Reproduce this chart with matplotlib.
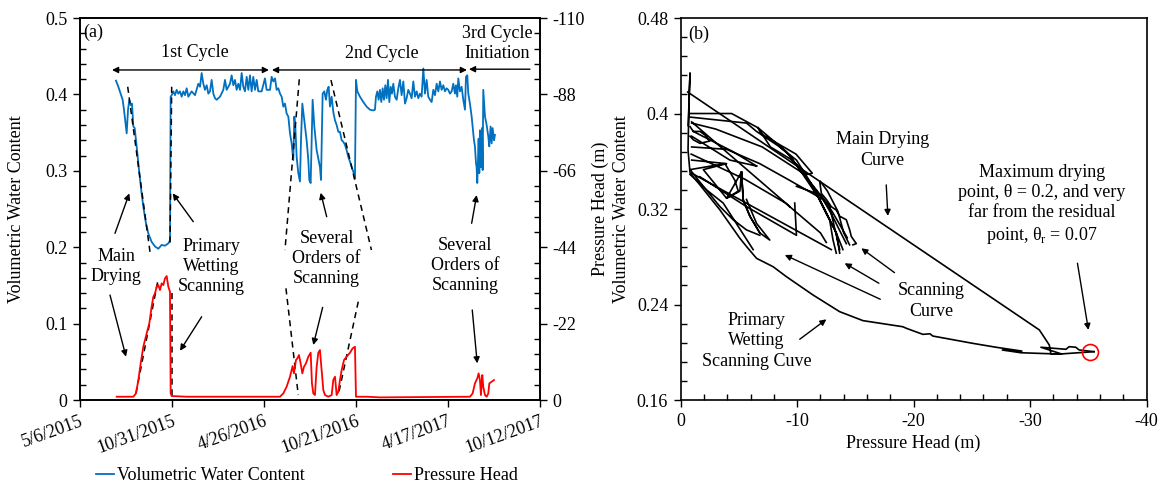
# grafico_humedad_succion.py
# -*- coding: utf-8 -*-
"""
Serie temporal de contenido volumétrico de agua y presión (a)
y curva de histéresis presión - humedad (b).
"""

import numpy as np
import matplotlib.pyplot as plt
import matplotlib.dates as mdates
from matplotlib.ticker import MultipleLocator

plt.rcParams['font.family'] = ['Liberation Serif', 'DejaVu Serif']
plt.rcParams['font.size'] = 13
plt.rcParams['axes.unicode_minus'] = False
plt.rcParams['mathtext.fontset'] = 'custom'
plt.rcParams['mathtext.rm'] = 'Liberation Serif'

# Fechas del eje x (a)
fecha_inicio = '2015-05-06'
fecha_fin = '2017-10-12'
fechas_ticks = ['2015-05-06', '2015-10-31', '2016-04-26',
                '2016-10-21', '2017-04-17', '2017-10-12']
etiquetas_fechas = ['5/6/2015', '10/31/2015', '4/26/2016',
                    '10/21/2016', '4/17/2017', '10/12/2017']

# Contenido volumétrico de agua (días desde fecha_inicio)
vwc_dia = [69.6, 74.2, 78.7, 82.5, 85.1, 89.0, 90.3, 92.9, 95.4, 98.0,
           100.6, 103.2, 105.8, 109.6, 114.8, 119.3, 122.5, 127.7, 132.2, 138.6,
           145.1, 151.5, 158.0, 164.4, 170.9, 174.1, 175.4, 177.3, 180.6, 183.8,
           187.0, 190.2, 193.5, 196.7, 199.9, 203.1, 206.4, 209.6, 216.0, 222.5,
           228.9, 232.2, 235.4, 238.6, 241.8, 245.1, 248.3, 251.5, 254.7, 258.0,
           261.2, 264.4, 270.9, 277.3, 280.5, 283.8, 290.2, 293.4, 296.7, 299.9,
           303.1, 306.3, 309.6, 312.8, 316.0, 319.2, 322.5, 325.7, 328.9, 332.1,
           335.3, 338.6, 341.8, 345.0, 351.5, 357.9, 361.1, 367.6,
           370.8, 374.0, 377.3, 380.5, 383.7, 387.0, 390.2, 393.4, 396.6, 399.8,
           403.1, 406.3, 409.5, 412.7, 414.7, 416.6, 419.2, 422.4, 425.6, 427.6,
           430.2, 434.0, 438.5, 441.8, 443.7, 446.3, 450.1, 453.4, 457.9, 461.1,
           464.3, 466.3, 469.5, 472.7, 475.9, 478.5, 481.1, 483.7, 486.9, 490.1,
           493.4, 496.6, 499.8, 503.0, 506.3, 509.5, 512.7, 515.9, 519.2, 522.4,
           525.6, 528.8, 532.0, 534.0, 536.6, 541.7, 548.2, 554.6, 561.1, 567.5,
           570.7, 572.7, 575.3, 577.8, 580.4, 583.0, 585.6, 588.2, 590.7, 593.3,
           595.9, 598.5, 601.1, 603.6, 606.2, 609.4, 612.7, 615.9, 619.1, 622.3,
           625.6, 628.8, 632.0, 635.2, 638.5, 641.7, 644.9, 648.1, 651.4, 654.6,
           657.8, 661.0, 664.3, 667.5, 670.7, 673.9, 677.2, 680.4, 683.6, 686.8,
           690.1, 693.3, 696.5, 699.7, 703.0, 706.2, 709.4, 712.6, 715.9, 719.1,
           722.3, 725.5, 727.5, 730.0, 732.0, 735.2, 738.4, 741.6, 744.9, 746.8,
           749.4, 751.3, 754.5, 757.8, 759.7, 762.3, 764.2, 766.2, 767.4, 768.7,
           770.0, 771.3, 772.6, 773.9, 775.8, 777.8, 779.1, 780.3, 783.6, 786.8,
           790.0, 791.9, 794.5, 796.5, 798.4, 801.0, 802.9]
vwc = [0.418, 0.410, 0.401, 0.393, 0.380, 0.356, 0.349, 0.380, 0.393, 0.386,
       0.388, 0.358, 0.356, 0.332, 0.297, 0.270, 0.253, 0.231, 0.218, 0.207,
       0.201, 0.198, 0.203, 0.202, 0.205, 0.209, 0.397, 0.399, 0.404, 0.399,
       0.406, 0.401, 0.404, 0.397, 0.404, 0.399, 0.408, 0.397, 0.404, 0.399,
       0.414, 0.410, 0.428, 0.414, 0.406, 0.412, 0.401, 0.404, 0.419, 0.401,
       0.395, 0.393, 0.397, 0.406, 0.419, 0.406, 0.414, 0.425, 0.412, 0.419,
       0.406, 0.414, 0.406, 0.428, 0.410, 0.404, 0.423, 0.406, 0.425, 0.404,
       0.423, 0.406, 0.419, 0.404, 0.404, 0.421, 0.406, 0.406,
       0.423, 0.417, 0.421, 0.406, 0.408, 0.401, 0.397, 0.384, 0.388, 0.375,
       0.371, 0.349, 0.336, 0.314, 0.371, 0.358, 0.318, 0.297, 0.286, 0.340,
       0.388, 0.366, 0.340, 0.314, 0.288, 0.284, 0.393, 0.358, 0.327, 0.316,
       0.305, 0.288, 0.401, 0.404, 0.393, 0.406, 0.410, 0.384, 0.397, 0.377,
       0.366, 0.360, 0.351, 0.351, 0.340, 0.338, 0.334, 0.327, 0.318, 0.312,
       0.305, 0.299, 0.290, 0.419, 0.404, 0.397, 0.390, 0.384, 0.380, 0.379,
       0.380, 0.397, 0.404, 0.393, 0.406, 0.390, 0.408, 0.393, 0.412, 0.395,
       0.419, 0.390, 0.410, 0.401, 0.414, 0.397, 0.393, 0.408, 0.419, 0.399,
       0.417, 0.388, 0.395, 0.406, 0.401, 0.395, 0.417, 0.397, 0.404, 0.395,
       0.401, 0.397, 0.434, 0.401, 0.419, 0.397, 0.393, 0.390, 0.406, 0.399,
       0.414, 0.404, 0.417, 0.406, 0.412, 0.404, 0.408, 0.406, 0.401, 0.404,
       0.414, 0.401, 0.412, 0.397, 0.421, 0.404, 0.410, 0.393, 0.380, 0.423,
       0.425, 0.401, 0.388, 0.371, 0.358, 0.340, 0.332, 0.310, 0.305, 0.284,
       0.314, 0.342, 0.297, 0.353, 0.305, 0.356, 0.301, 0.406, 0.371, 0.360,
       0.345, 0.332, 0.358, 0.336, 0.356, 0.340, 0.347]

# Presión (m), eje derecho invertido
presion_dia = [70.9, 103.2, 108.3, 112.9, 117.4, 122.5, 129.0, 134.1, 138.6, 141.9,
               145.1, 148.3, 151.5, 154.8, 158.0, 161.2, 164.4, 167.7, 170.9, 174.1,
               175.4, 177.3, 206.4, 386.9, 393.4, 399.8, 406.3, 411.4, 414.0, 417.9,
               420.5, 423.7, 426.9, 430.2, 433.4, 437.2, 441.8, 446.3, 448.8, 451.4,
               454.6, 457.9, 461.1, 464.3, 467.5, 470.8, 474.0, 480.4, 486.9, 490.1,
               493.4, 496.6, 499.8, 503.0, 506.3, 510.8, 515.9, 522.4, 527.5, 532.0,
               534.0, 554.6, 580.4, 754.5, 759.7, 764.2, 768.7, 771.3, 773.9, 775.8,
               778.4, 780.3, 783.6, 786.8, 790.0, 792.0, 796.5, 801.0]
presion = [-0.95, -0.95, -1.91, -5.75, -10.55, -15.35, -19.19, -22.07, -26.87, -29.75,
           -30.71, -32.63, -33.11, -31.67, -33.59, -33.11, -35.03, -35.70, -32.63, -31.19,
           -1.91, -1.15, -0.95, -0.95, -1.91, -3.83, -6.71, -9.79, -7.67, -11.51,
           -11.99, -12.95, -10.55, -7.67, -9.59, -10.55, -12.47, -13.63, -4.79, -1.91,
           -1.43, -9.59, -13.63, -14.39, -8.63, -2.87, -1.43, -0.95, -1.43, -5.75,
           -6.71, -1.43, -2.39, -5.75, -8.63, -11.51, -12.47, -13.63, -14.87, -15.35,
           -0.95, -0.95, -0.76, -0.95, -1.91, -4.79, -6.23, -7.67, -5.75, -1.43,
           -7.19, -3.83, -1.43, -0.95, -1.91, -4.79, -5.27, -5.75]

# (b) curva principal de secado
secado_ph = [-0.60, -30.8, -31.65, -31.79, -32.73, -30.93, -33.08, -33.36, -33.93, -34.22, -35.50]
secado_vwc = [0.418, 0.2187, 0.2061, 0.1985, 0.1985, 0.2042, 0.2025, 0.2047, 0.2042, 0.2019, 0.2005]

# (b) curva primaria de humedecimiento
humed_ph = [-35.50, -32.50, -29.22, -27.62, -29.30, -27.08, -25.07, -21.65, -21.40, -20.80,
            -19.37, -19.07, -15.65, -13.65, -11.36, -9.08, -7.93, -6.51, -5.66, -5.08,
            -3.37, -1.65, -0.80, -0.63, -0.71, -0.80, -0.65]
humed_vwc = [0.2005, 0.1985, 0.1996, 0.2019, 0.2010, 0.2042, 0.2075, 0.2136, 0.2155, 0.2150,
             0.2201, 0.2214, 0.2265, 0.2340, 0.2480, 0.2633, 0.2717, 0.2787, 0.2885, 0.2955,
             0.3192, 0.3402, 0.3502, 0.3695, 0.4114, 0.4340, 0.3900]

# (b) curvas de escaneo, tramos separados con NaN
nan = np.nan
escaneo_ph = [-0.80, -4.37, -6.65, -9.08, -10.22, -11.94, -13.36, -13.93, nan,
              -0.80, -5.65, -6.51, -8.51, -9.36, -10.22, -11.65, -12.79, -13.65, nan,
              -0.80, -1.08, -1.65, -2.08, -2.51, -1.65, -1.08, -0.80, nan,
              -0.94, -4.22, -6.51, nan,
              -0.94, -3.94, -5.37, -6.79, -9.36, -12.22, -12.93, -14.22, nan,
              -0.80, -3.80, -4.65, -4.94, -3.94, -5.22, -5.37, -5.94, -6.79, nan,
              -0.80, -1.94, -3.37, -4.51, -5.65, -6.79, nan,
              -0.80, -2.22, -3.65, -6.22, nan,
              -1.65, -5.65, -9.94, -9.79, nan,
              -5.22, -5.37, -5.94, -6.79, -7.65, -6.51, -5.65, nan,
              -8.51, -9.94, -11.36, -12.22, -12.79, -13.08, -13.36, nan,
              -11.94, -12.08, -12.51, -12.93, -13.36, -13.65, -14.22, -14.51, -14.65, -15.08, -14.79, nan,
              -9.94, -11.65, -12.51, -13.36, -13.65, nan,
              -0.94, -12.93, nan,
              -0.94, -3.94, -1.94, -3.94, -5.08, -5.22, nan,
              -0.94, -9.37, nan,
              -1.08, -4.50, -6.51, nan,
              -0.94, -3.00, -7.00, -10.50, -13.00, -14.30, nan,
              -6.65, -6.90, -8.30, -9.90, -11.30, -10.90, -9.40, -7.70, -6.65, nan,
              -0.90, -5.50, -9.00, -12.00, -12.50, nan,
              -12.00, -12.60, -13.50, -14.00, -14.50]
escaneo_vwc = [0.400, 0.400, 0.388, 0.368, 0.353, 0.328, 0.300, 0.286, nan,
               0.397, 0.392, 0.385, 0.372, 0.365, 0.353, 0.336, 0.322, 0.286, nan,
               0.389, 0.385, 0.385, 0.382, 0.377, 0.375, 0.378, 0.381, nan,
               0.381, 0.361, 0.356, nan,
               0.372, 0.370, 0.364, 0.358, 0.344, 0.328, 0.316, 0.291, nan,
               0.353, 0.358, 0.344, 0.335, 0.329, 0.351, 0.327, 0.314, 0.300, nan,
               0.353, 0.339, 0.322, 0.311, 0.3025, 0.298, nan,
               0.349, 0.336, 0.325, 0.286, nan,
               0.347, 0.322, 0.298, 0.325, nan,
               0.351, 0.328, 0.314, 0.300, 0.294, 0.308, 0.328, nan,
               0.372, 0.361, 0.339, 0.322, 0.311, 0.294, 0.283, nan,
               0.343, 0.333, 0.328, 0.322, 0.319, 0.314, 0.311, 0.3025, 0.297, 0.291, 0.290, nan,
               0.339, 0.333, 0.316, 0.300, 0.283, nan,
               0.350, 0.286, nan,
               0.361, 0.358, 0.353, 0.329, 0.335, 0.351, nan,
               0.393, 0.322, nan,
               0.385, 0.368, 0.356, nan,
               0.392, 0.387, 0.372, 0.350, 0.318, 0.296, nan,
               0.388, 0.383, 0.375, 0.366, 0.350, 0.349, 0.362, 0.372, 0.388, nan,
               0.366, 0.345, 0.325, 0.300, 0.292, nan,
               0.343, 0.335, 0.318, 0.300, 0.290]

punto_max_ph = -35.13
punto_max_vwc = 0.2005

AZUL = '#0070C0'
ROJO = '#FF0000'


def flecha(ax, cola, punta, estilo='-|>'):
    """Dibuja una flecha fina negra de cola a punta."""
    ax.annotate('', xy=punta, xytext=cola,
                arrowprops=dict(arrowstyle=estilo, color='k', lw=1.0,
                                mutation_scale=9, shrinkA=0, shrinkB=0))


def estilo_ticks(ax):
    """Ticks mayores hacia fuera, menores hacia dentro."""
    ax.tick_params(which='major', direction='out', length=5, width=1, pad=4)
    ax.tick_params(which='minor', direction='in', length=4, width=1)
    for s in ax.spines.values():
        s.set_linewidth(1.2)


def panel_a(ax):
    t0 = mdates.datestr2num(fecha_inicio)
    ax2 = ax.twinx()
    l1, = ax.plot(t0 + np.array(vwc_dia), vwc, color=AZUL, lw=1.3,
                  label='Volumetric Water Content')
    l2, = ax2.plot(t0 + np.array(presion_dia), presion, color=ROJO, lw=1.3,
                   label='Pressure Head')

    ax.set_xlim(t0, mdates.datestr2num(fecha_fin))
    ax.set_xticks(mdates.datestr2num(fechas_ticks))
    ax.set_xticklabels(etiquetas_fechas, rotation=20, ha='right',
                       rotation_mode='anchor')
    ax.set_ylim(0, 0.5)
    ax.set_yticks([0, 0.1, 0.2, 0.3, 0.4, 0.5])
    ax.set_yticklabels(['0', '0.1', '0.2', '0.3', '0.4', '0.5'])
    ax.yaxis.set_minor_locator(MultipleLocator(0.02))
    ax2.set_ylim(0, -110)
    ax2.set_yticks([0, -22, -44, -66, -88, -110])
    ax2.set_yticklabels(['0', '-22', '-44', '-66', '-88', '-110'])
    ax2.yaxis.set_minor_locator(MultipleLocator(4.4))
    estilo_ticks(ax)
    estilo_ticks(ax2)
    ax.tick_params(axis='x', which='minor', bottom=False)

    ax.set_ylabel('Volumetric Water Content')
    ax.yaxis.set_label_coords(-0.12, 0.5)
    ax2.set_ylabel('Pressure Head (m)')
    ax2.yaxis.set_label_coords(1.113, 0.5)

    ax.text(0.006, 0.985, '(a)', transform=ax.transAxes, va='top', ha='left')

    # Ciclos
    d = lambda x: t0 + x
    flecha(ax, (d(61.9), 0.432), (d(365.6), 0.432), '<|-|>')
    flecha(ax, (d(371.4), 0.432), (d(748.7), 0.432), '<|-|>')
    flecha(ax, (d(870.6), 0.433), (d(752.6), 0.433))
    ax.text(d(222.5), 0.4555, '1st Cycle', ha='center', va='center')
    ax.text(d(584.3), 0.454, '2nd Cycle', ha='center', va='center')
    ax.text(d(806.7), 0.4666, '3rd Cycle\nInitiation', ha='center', va='center',
            linespacing=1.25)

    # Líneas discontinuas
    tramos = [((92.3, 135.4), (0.410, 0.194)),
              ((177.4, 174.1), (0.410, 0.2007)),
              ((108.3, 151.5), (0.0088, 0.159)),
              ((177.4, 177.4), (0.1397, 0.0043)),
              ((424.3, 396.6), (0.4198, 0.1963)),
              ((398.5, 422.3), (0.1462, 0.0065)),
              ((485.6, 563.9), (0.4188, 0.1963)),
              ((538.4, 499.7), (0.1287, 0.0065))]
    for xs, ys in tramos:
        ax.plot(t0 + np.array(xs), ys, color='k', lw=1.1, ls=(0, (4, 3)))

    # Textos con flechas
    ax.text(d(69.6), 0.175, 'Main\nDrying', ha='center', va='center', linespacing=1.25)
    flecha(ax, (d(67.7), 0.2182), (d(95.4), 0.2705))
    flecha(ax, (d(58.0), 0.1374), (d(89.0), 0.0567))
    ax.text(d(254.8), 0.1745, 'Primary\nWetting\nScanning', ha='center', va='center',
            linespacing=1.25)
    flecha(ax, (d(219.2), 0.2334), (d(179.3), 0.2705))
    flecha(ax, (d(235.4), 0.1090), (d(193.5), 0.0645))
    ax.text(d(477.3), 0.1852, 'Several\nOrders of\nScanning', ha='center', va='center',
            linespacing=1.25)
    flecha(ax, (d(477.3), 0.2399), (d(465.7), 0.2713))
    flecha(ax, (d(469.5), 0.1213), (d(451.4), 0.0720))
    ax.text(d(744.8), 0.1758, 'Several\nOrders of\nScanning', ha='center', va='center',
            linespacing=1.25)
    flecha(ax, (d(757.8), 0.2313), (d(767.5), 0.2683))
    flecha(ax, (d(759.0), 0.1178), (d(768.6), 0.0480))
    return l1, l2


def panel_b(ax):
    ax.plot(secado_ph, secado_vwc, color='k', lw=1.2)
    ax.plot(humed_ph, humed_vwc, color='k', lw=1.2)
    ax.plot(escaneo_ph, escaneo_vwc, color='k', lw=1.2)
    ax.plot(punto_max_ph, punto_max_vwc, 'o', ms=11.5, mfc='none', mec=ROJO, mew=1.2)

    ax.set_xlim(0, -40)
    ax.set_xticks([0, -10, -20, -30, -40])
    ax.set_xticklabels(['0', '-10', '-20', '-30', '-40'])
    ax.xaxis.set_minor_locator(MultipleLocator(2))
    ax.set_ylim(0.16, 0.48)
    ax.set_yticks([0.16, 0.24, 0.32, 0.40, 0.48])
    ax.set_yticklabels(['0.16', '0.24', '0.32', '0.4', '0.48'])
    ax.yaxis.set_minor_locator(MultipleLocator(0.016))
    estilo_ticks(ax)
    ax.set_xlabel('Pressure Head (m)')
    ax.set_ylabel('Volumetric Water Content')
    ax.yaxis.set_label_coords(-0.109, 0.5)

    ax.text(0.016, 0.979, '(b)', transform=ax.transAxes, va='top', ha='left')
    ax.text(-17.33, 0.3695, 'Main Drying\nCurve', ha='center', va='center',
            linespacing=1.25)
    flecha(ax, (-17.65, 0.3402), (-17.79, 0.3142))
    ax.text(-31.04, 0.3234, 'Maximum drying\npoint, θ = 0.2, and very\n'
            'far from the residual\npoint, θ$_\\mathregular{r}$ = 0.07',
            ha='center', va='center', linespacing=1.25)
    flecha(ax, (-34.07, 0.2746), (-35.01, 0.2187))
    ax.text(-21.51, 0.243, 'Scanning\nCurve', ha='center', va='center', linespacing=1.25)
    flecha(ax, (-18.36, 0.2667), (-15.51, 0.2871))
    flecha(ax, (-17.02, 0.2578), (-14.08, 0.2746))
    flecha(ax, (-17.14, 0.2444), (-8.94, 0.2815))
    ax.text(-6.51, 0.2095, 'Primary\nWetting\nScanning Cuve', ha='center', va='center',
            linespacing=1.25)
    flecha(ax, (-10.22, 0.2109), (-12.51, 0.2276))


def main():
    fig = plt.figure(figsize=(11.68, 4.87), dpi=100)
    ax_a = fig.add_axes([0.0685, 0.1786, 0.3938, 0.7844])
    ax_b = fig.add_axes([0.5828, 0.1786, 0.3988, 0.7844])
    l1, l2 = panel_a(ax_a)
    panel_b(ax_b)
    fig.legend([l1, l2], [l1.get_label(), l2.get_label()], loc='center',
               bbox_to_anchor=(0.263, 0.0226), ncol=2, frameon=False,
               handlelength=1.0, handletextpad=0.15, columnspacing=4.9)
    fig.savefig('out.png', dpi=100)


if __name__ == '__main__':
    main()
